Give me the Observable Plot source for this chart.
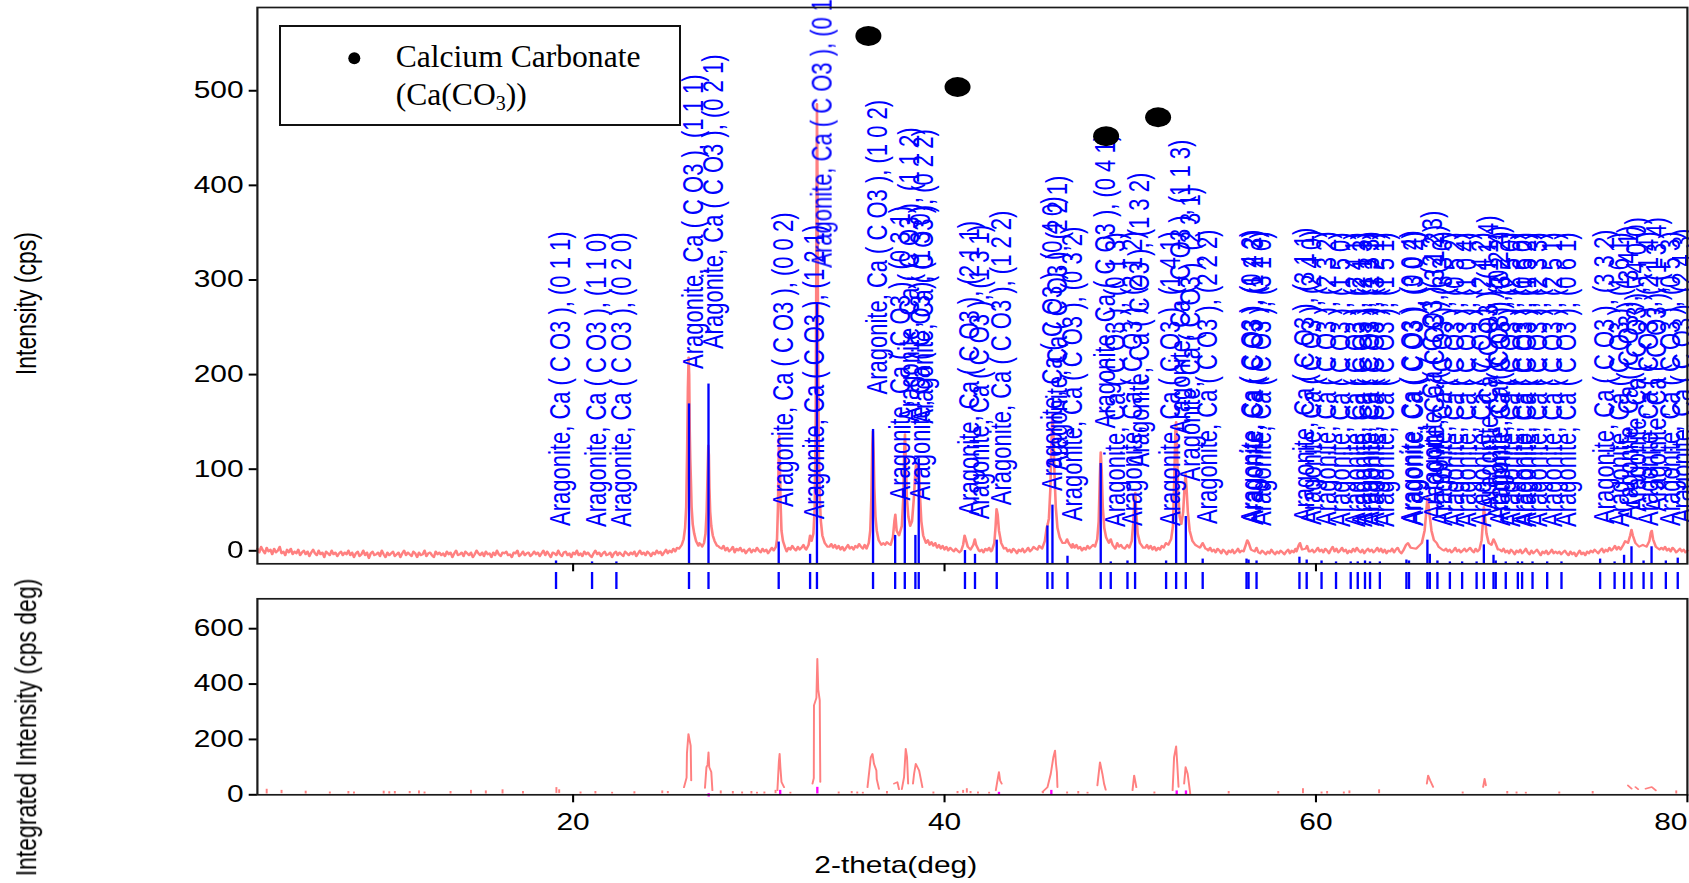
<!DOCTYPE html>
<html>
<head>
<meta charset="utf-8">
<script src="https://cdn.jsdelivr.net/npm/d3@7"></script>
<script src="https://cdn.jsdelivr.net/npm/@observablehq/plot@0.6"></script>
<style>
  html, body { margin: 0; padding: 0; background: #fff; }
  #page { position: relative; width: 1689px; height: 883px; overflow: hidden; background: #fff; }
  /* the diffractogram is laid out narrow and stretched horizontally */
  #chart { position: absolute; left: 0; top: 0; width: 1300px; transform: scaleX(1.3); transform-origin: 0 0; }
  #chart svg { display: block; max-width: none; }
  #legend { position: absolute; left: 0; top: 0; }
</style>
</head>
<body>
<div id="page">
  <div id="chart"></div>
  <svg id="legend" width="700" height="140" font-family="'Liberation Serif', 'Times New Roman', serif">
    <rect x="280" y="26" width="400" height="99" fill="white" stroke="#111" stroke-width="2"></rect>
    <circle cx="354.3" cy="58.3" r="6" fill="black"></circle>
    <text x="395.7" y="66.7" font-size="31.6">Calcium Carbonate</text>
    <text x="395.7" y="105" font-size="31.6">(Ca(CO<tspan font-size="20" dy="5">3</tspan><tspan dy="-5">))</tspan></text>
  </svg>
</div>
<script>
// ---- measured scan: counts on a 0.1° grid from 3.0° to 80.0° ----
const scanStart = 3.0, scanStep = 0.1;
const background = [
  // 3.0 – 7.9
  16,12,18,14,11,17,13,15,10,16,12,14,18,11,13,9,15,12,16,10,13,11,15,9,12,14,10,13,8,12,15,11,9,14,10,12,7,13,11,9,14,10,12,8,11,13,9,12,10,14,
  // 8.0 – 12.9
  9,12,7,11,13,8,10,14,9,12,6,11,13,9,10,12,8,14,10,7,12,9,11,13,8,10,12,7,11,14,9,12,10,8,13,11,7,12,9,10,14,8,11,12,9,7,13,10,12,9,
  // 13.0 – 17.9
  11,8,13,10,12,7,11,14,9,10,12,8,13,11,9,12,7,10,14,11,9,12,8,13,10,11,7,12,9,14,10,8,12,11,13,9,10,7,12,11,14,8,10,13,9,11,12,8,10,13,
  // 18.0 – 22.9
  10,12,8,11,14,9,13,10,7,12,11,9,14,10,8,12,13,9,11,7,12,10,14,9,11,8,13,10,12,9,7,11,14,10,12,8,11,13,9,10,12,7,11,13,9,12,10,8,13,11,
  // 23.0 – 27.9
  9,12,10,13,8,11,14,10,12,9,13,11,8,12,10,14,11,13,9,12,15,11,14,12,16,13,17,15,19,21,30,60,200,120,60,35,28,24,22,20,20,22,60,110,50,30,24,21,19,17,
  // 28.0 – 32.9
  16,19,14,17,13,15,18,12,16,14,17,13,15,11,14,16,12,15,13,17,14,12,16,13,15,11,14,17,13,16,12,15,18,14,16,13,17,15,19,16,14,18,15,17,20,16,19,22,18,21,
  // 33.0 – 37.9
  300,480,120,45,30,24,20,22,18,21,17,20,16,19,15,18,14,17,20,16,18,15,19,17,21,18,16,20,17,19,40,130,60,30,24,21,25,22,20,23,21,24,26,45,28,25,27,50,120,60,
  // 38.0 – 42.9
  45,42,55,100,100,70,40,30,26,24,22,25,20,23,19,22,17,20,16,19,15,18,14,17,15,13,16,14,12,15,20,28,18,15,16,22,18,14,16,13,15,12,16,14,17,13,15,18,14,17,
  // 43.0 – 47.9
  16,19,14,17,13,15,12,16,14,11,15,13,16,12,14,17,13,15,18,16,15,19,17,22,26,40,45,80,150,90,40,30,26,24,22,20,25,22,19,21,17,20,16,18,14,17,15,19,16,18,
  // 48.0 – 52.9
  20,22,30,60,110,60,35,28,24,22,25,21,19,22,18,20,17,21,19,16,20,24,75,50,28,22,19,21,17,20,16,19,15,18,14,17,15,19,16,18,20,24,30,60,140,90,45,42,60,90,
  // 53.0 – 57.9
  80,50,30,24,21,20,19,17,20,22,18,16,14,17,13,15,12,16,14,11,15,13,10,14,12,15,11,13,16,12,14,16,20,24,18,14,12,15,17,13,11,14,12,10,13,11,15,12,10,13,
  // 58.0 – 62.9
  11,14,12,10,13,15,11,14,12,16,13,19,22,15,16,19,17,13,15,12,14,17,13,15,12,16,14,11,15,18,13,16,12,14,17,13,15,11,14,12,16,13,17,14,12,15,11,14,16,13,
  // 63.0 – 67.9
  15,12,14,17,13,16,12,15,11,14,13,16,12,15,17,13,11,14,12,15,18,16,14,17,15,13,16,20,35,55,70,50,30,24,22,19,17,15,18,14,16,13,15,12,14,17,13,15,12,14,
  // 68.0 – 72.9
  16,13,15,17,14,12,16,13,18,30,55,35,22,19,21,20,24,22,17,15,13,16,12,14,11,15,13,10,14,12,15,11,13,16,12,10,14,11,13,15,12,9,13,11,14,10,12,15,11,13,
  // 73.0 – 77.9
  11,13,10,12,14,11,9,13,10,12,8,11,14,10,12,9,13,11,14,12,15,13,11,14,16,12,15,13,17,14,16,19,15,18,16,20,22,24,21,19,18,25,32,28,22,19,17,20,18,16,
  // 78.0 – 80.0
  19,24,32,35,26,20,17,15,18,14,16,13,17,15,12,14,16,13,15,12,14
];

// ---- measured scan around the reflections, finer steps: [2θ, cps] ----
const peakScans = [
  [[25.7,16],[25.85,20],[25.95,26],[26.03,38],[26.09,60],[26.14,120],[26.18,185],[26.22,218],[26.25,200],[26.28,140],[26.31,110],[26.34,90],[26.38,60],[26.44,42],[26.52,32],[26.62,24],[26.75,19]],
  [[26.95,18],[27.05,22],[27.13,32],[27.19,55],[27.24,95],[27.28,125],[27.31,115],[27.34,80],[27.38,55],[27.44,40],[27.52,30],[27.62,24],[27.75,19]],
  [[30.8,14],[30.92,18],[30.98,26],[31.03,60],[31.07,115],[31.10,135],[31.13,110],[31.17,65],[31.22,35],[31.3,24],[31.42,17]],
  [[32.55,15],[32.68,20],[32.76,30],[32.84,24],[32.94,32],[33.01,60],[33.06,150],[33.10,330],[33.13,486],[33.16,400],[33.19,230],[33.23,120],[33.28,70],[33.34,45],[33.42,30],[33.55,22],[33.7,18]],
  [[35.8,16],[35.92,22],[36.0,35],[36.06,70],[36.11,125],[36.14,140],[36.18,118],[36.22,80],[36.28,50],[36.35,35],[36.45,25],[36.6,20]],
  [[37.1,20],[37.22,28],[37.3,45],[37.35,52],[37.42,35],[37.55,30],[37.7,40],[37.78,70],[37.83,120],[37.87,137],[37.91,110],[37.97,70],[38.05,50],[38.15,40],[38.25,45],[38.35,70],[38.42,95],[38.47,106],[38.52,90],[38.58,100],[38.62,104],[38.67,75],[38.75,45],[38.85,30],[39.0,22]],
  [[40.9,14],[41.0,20],[41.08,30],[41.14,26],[41.25,18],[41.4,15],[41.55,20],[41.63,26],[41.7,20],[41.85,14]],
  [[42.55,14],[42.68,22],[42.75,40],[42.8,58],[42.86,52],[42.93,35],[43.05,22],[43.2,16]],
  [[45.25,16],[45.4,24],[45.5,38],[45.56,42],[45.62,48],[45.7,80],[45.76,130],[45.81,158],[45.86,140],[45.92,95],[45.99,60],[46.08,38],[46.2,28],[46.35,22],[46.5,22],[46.6,26],[46.68,22],[46.85,17]],
  [[48.1,18],[48.22,26],[48.3,45],[48.36,90],[48.41,118],[48.46,100],[48.52,60],[48.6,38],[48.7,28],[48.85,22],[48.95,26],[49.05,20],[49.2,16]],
  [[49.7,16],[49.84,20],[49.95,17],[50.08,24],[50.17,45],[50.23,70],[50.27,75],[50.32,55],[50.4,32],[50.52,22],[50.7,17]],
  [[51.8,17],[51.92,22],[52.05,20],[52.2,26],[52.3,40],[52.37,90],[52.43,140],[52.47,150],[52.52,120],[52.58,75],[52.66,50],[52.75,42],[52.85,55],[52.92,80],[52.98,95],[53.03,80],[53.1,55],[53.2,35],[53.35,24],[53.5,20],[53.75,17],[53.9,22],[54.05,16]],
  [[56.1,13],[56.22,20],[56.3,25],[56.38,22],[56.5,15],[56.7,13],[56.8,17],[56.9,12]],
  [[58.95,13],[59.08,20],[59.14,22],[59.25,15],[59.45,16],[59.52,19],[59.62,13]],
  [[64.7,14],[64.85,20],[64.95,22],[65.1,17],[65.4,16],[65.7,22],[65.85,35],[65.94,55],[66.0,70],[66.06,62],[66.13,50],[66.22,35],[66.35,25],[66.5,22],[66.6,18],[66.8,15]],
  [[68.8,15],[68.92,25],[68.98,42],[69.04,60],[69.1,50],[69.18,32],[69.3,22],[69.45,20],[69.56,26],[69.66,22],[69.8,15]],
  [[76.4,15],[76.55,20],[76.65,24],[76.8,22],[76.92,30],[76.99,36],[77.06,30],[77.2,22],[77.4,18],[77.6,20],[77.8,18],[77.95,24],[78.03,33],[78.08,35],[78.15,26],[78.3,18],[78.5,15]]
];

// ---- Aragonite reference card: position (2θ), stick height (cps), hkl ----
const refPos = [19.08,21.02,22.33,26.24,27.29,31.07,32.76,33.13,36.15,37.34,37.86,38.43,38.61,41.10,41.64,42.81,
  45.54,45.81,46.62,48.41,48.95,49.85,50.26,51.93,52.47,52.99,53.90,56.26,56.37,56.80,59.11,59.50,
  60.30,61.08,61.87,62.25,62.64,62.91,63.44,64.87,65.01,66.00,66.13,66.54,67.21,67.87,68.65,69.04,69.56,69.68,
  70.22,70.87,71.10,71.66,72.45,73.22,75.30,76.08,76.59,76.99,77.64,78.07,78.84,79.48];
const refCps = [3,2,2,169,190,23,10,276,142,30,113,30,111,14,10,25,
  40,62,8,106,2,3,65,3,100,50,5,5,4,3,7,4,
  3,2,2,2,3,2,2,4,3,25,10,3,2,2,2,20,9,3,
  2,2,2,2,2,2,5,2,9,18,3,18,3,6];
const refHkl = ["0 1 1","1 1 0","0 2 0","1 1 1","0 2 1","0 0 2","1 2 1","0 1 2","1 0 2","0 3 1","1 1 2","1 3 0","0 2 2","2 1 1","1 3 1","1 2 2",
  "0 4 0","2 2 1","0 3 2","0 4 1","0 1 3","2 1 2","1 3 2","1 4 1","1 1 3","2 3 1","2 2 2","0 4 2","1 2 3","3 1 0","3 1 1","2 4 0",
  "2 3 2","1 5 0","2 4 1","2 1 3","1 3 3","3 2 1","1 5 1","0 0 4","3 0 2","2 2 3","3 1 2","3 3 0","0 5 2","1 0 4","2 4 2","1 1 4","0 2 4","3 2 2",
  "2 5 0","0 6 0","1 5 2","2 3 3","2 5 1","0 6 1","3 3 2","1 6 1","3 4 1","4 0 0","2 1 4","1 3 4","0 5 3","2 4 3"];

// ---- Calcium carbonate markers (2θ, cps) ----
const caco3Pos = [35.9, 40.7, 48.7, 51.5];
const caco3Cps = [558, 504, 452, 472];

// ---- integrated intensity: peak traces [2θ, cps·deg] and small baseline dashes [2θ, low, high] ----
const integratedTraces = [
  [[25.97,27],[26.11,62],[26.13,150],[26.21,220],[26.33,178],[26.36,52]],
  [[27.10,25],[27.18,100],[27.24,108],[27.29,154],[27.33,100],[27.44,82],[27.5,16]],
  [[31.0,16],[31.08,120],[31.12,148],[31.16,100],[31.22,46],[31.36,27]],
  [[32.89,40],[32.96,60],[32.97,323],[33.10,350],[33.15,491],[33.2,380],[33.28,341],[33.31,46]],
  [[35.85,27],[36.03,136],[36.12,148],[36.2,112],[36.33,88],[36.35,57],[36.47,21]],
  [[37.28,40],[37.46,46],[37.55,20]],
  [[37.7,20],[37.82,64],[37.91,166],[37.98,136],[38.04,40]],
  [[38.3,40],[38.36,76],[38.45,112],[38.63,88],[38.81,27]],
  [[42.76,16],[42.88,64],[42.93,82],[42.99,52],[43.08,40]],
  [[45.27,10],[45.54,27],[45.72,76],[45.86,136],[45.95,160],[46.0,112],[46.05,82],[46.08,27]],
  [[48.23,34],[48.37,118],[48.5,76],[48.59,40],[48.68,18]],
  [[50.12,16],[50.21,70],[50.26,52],[50.33,27]],
  [[52.28,16],[52.36,136],[52.47,175],[52.53,112],[52.6,28]],
  [[52.9,40],[52.98,100],[53.09,76],[53.23,4]],
  [[65.97,40],[66.04,70],[66.15,52],[66.31,28]],
  [[69.0,28],[69.08,58],[69.15,34]],
  [[76.8,34],[77.0,22]],
  [[77.2,28],[77.35,20]],
  [[77.75,22],[78.08,28],[78.3,16]]
];
const integratedDashes = [
  [3.5,3,20],[4.3,4,16],[5.6,3,13],[6.9,3,10],[7.9,3,12],[8.2,3,10],[9.8,3,13],[10.1,3,11],[10.4,3,12],
  [11.2,4,12],[11.7,3,14],[12.0,3,10],[13.4,3,12],[14.5,3,16],[15.3,3,14],[16.2,3,18],[17.3,3,12],
  [19.1,5,26],[19.25,5,18],[20.4,3,10],[21.2,3,12],[22.1,3,9],[23.3,3,11],[24.8,4,14],[25.1,4,12],
  [27.95,3,14],[28.6,3,12],[29.1,3,10],[29.6,3,12],[29.9,3,9],[30.3,3,10],[30.9,4,16],[31.7,3,9],
  [34.3,3,10],[35.0,4,12],[35.3,3,10],[35.6,3,9],[36.9,3,12],[39.4,3,10],[40.7,4,12],[41.0,5,16],
  [41.2,6,22],[41.4,4,12],[41.8,3,10],[42.4,3,9],[45.3,4,12],[46.6,3,10],[47.2,3,12],[47.7,3,9],
  [51.3,3,10],[55.3,3,12],[57.97,3,12],[59.3,4,22],[60.3,3,10],[60.6,3,12],[61.5,3,10],[61.8,4,14],
  [63.4,4,18],[67.9,3,10],[70.3,3,12],[70.8,3,10],[71.3,3,9],[73.1,3,10],[74.9,3,12],[79.4,3,14]
];
// fitted-peak markers on the integrated baseline [2θ, low, high]
const fitMarkers = [[27.3,-8,4],[31.15,-2,16],[33.15,3,27],[42.93,1,9],[45.75,1,16],[52.5,-2,14],[53.0,-2,14]];

// ---- axes ----
const xDomain = [3, 80];
const xTicks = [20, 40, 60, 80];
const yTicksScan = [0, 100, 200, 300, 400, 500];
const yTicksIntegrated = [0, 200, 400, 600];

// ---- tables for the marks ----
const windows = peakScans.map(p => [p[0][0], p[p.length - 1][0]]);
const scan = [];
background.forEach((c, i) => {
  const t = +(scanStart + i * scanStep).toFixed(2);
  if (!windows.some(([a, b]) => t >= a && t <= b)) scan.push({t, c});
});
peakScans.forEach(p => p.forEach(([t, c]) => scan.push({t, c})));
scan.sort((a, b) => a.t - b.t);

const sticks = refPos.map((t, i) => ({t, cps: refCps[i], label: `Aragonite, Ca ( C O3 ), (${refHkl[i]})`}));
const caco3 = caco3Pos.map((t, i) => ({t, c: caco3Cps[i]}));
const traceRows = integratedTraces.flatMap((tr, id) => tr.map(([t, v]) => ({id, t, v})));
const dashRows = integratedDashes.map(([t, lo, hi]) => ({t, lo, hi}));
const markerRows = fitMarkers.map(([t, lo, hi]) => ({t, lo, hi}));

const FONT = "'Liberation Sans', Arial, Helvetica, sans-serif";
const W = 1300, ML = 197.5, MR = 2.5;
const RED = "#ff8080", BLUE = "#0000ff";
const baseStyle = {fontFamily: FONT, fontSize: "23px", background: "white", color: "black", overflow: "visible"};

const scanPlot = Plot.plot({
  width: W, height: 572, marginLeft: ML, marginRight: MR, marginTop: 7, marginBottom: 8.7,
  style: baseStyle,
  x: {domain: xDomain},
  y: {domain: [0, 588]},
  marks: [
    Plot.line(scan, {x: "t", y: "c", stroke: RED, strokeWidth: 2}),
    Plot.ruleX(sticks, {x: "t", y1: 0, y2: "cps", stroke: BLUE, strokeWidth: 1.8}),
    Plot.text(sticks, {x: "t", y: "cps", text: "label", rotate: -90, textAnchor: "start", fill: BLUE, fontSize: 22, dx: 4, dy: -35}),
    Plot.dot(caco3, {x: "t", y: "c", r: 10, fill: "black"}),
    Plot.frame({stroke: "#1a1a1a", strokeWidth: 1.7}),
    Plot.axisY({ticks: yTicksScan.slice(1), tickSize: 6.2, tickPadding: 4.4, strokeWidth: 2, label: null}),
    Plot.axisY({ticks: yTicksScan.slice(0, 1), tickSize: 6.2, tickPadding: 4.4, dy: -13, strokeWidth: 2, label: null}),
    Plot.axisX({ticks: xTicks.slice(0, 3), tickSize: 8, strokeWidth: 1.6, tickFormat: () => "", label: null}),
    Plot.text(["Intensity (cps)"], {frameAnchor: "left", textAnchor: "middle", lineAnchor: "middle", rotate: -90, dx: -177.5, dy: 18, fontSize: 23})
  ]
});

const rugPlot = Plot.plot({
  width: W, height: 17, marginLeft: ML, marginRight: MR, marginTop: 0, marginBottom: 0,
  style: baseStyle,
  x: {domain: xDomain, axis: null},
  marks: [
    Plot.tickX(refPos, {x: d => d, stroke: BLUE, strokeWidth: 1.8})
  ]
});

const integratedPlot = Plot.plot({
  width: W, height: 294, marginLeft: ML, marginRight: MR, marginTop: 9.3, marginBottom: 88.7,
  style: baseStyle,
  x: {domain: xDomain},
  y: {domain: [0, 708]},
  marks: [
    Plot.line(traceRows, {x: "t", y: "v", z: "id", stroke: RED, strokeWidth: 1.5}),
    Plot.ruleX(dashRows, {x: "t", y1: "lo", y2: "hi", stroke: RED, strokeWidth: 1.5}),
    Plot.ruleX(markerRows, {x: "t", y1: "lo", y2: "hi", stroke: "#ff00ff", strokeWidth: 1.8}),
    Plot.frame({stroke: "#1a1a1a", strokeWidth: 1.7}),
    Plot.axisY({ticks: yTicksIntegrated, tickSize: 6.2, tickPadding: 4.4, strokeWidth: 2, label: null}),
    Plot.axisX({ticks: xTicks.slice(0, 3), tickSize: 8, tickPadding: 10.4, strokeWidth: 1.6, label: null}),
    Plot.axisX({ticks: xTicks.slice(3), tickSize: 8, tickPadding: 10.4, strokeWidth: 1.6, textAnchor: "end", label: null}),
    Plot.text(["Integrated Intensity (cps deg)"], {frameAnchor: "left", textAnchor: "middle", lineAnchor: "middle", rotate: -90, dx: -177.5, dy: 30.7, fontSize: 23}),
    Plot.text(["2-theta(deg)"], {frameAnchor: "bottom", textAnchor: "middle", lineAnchor: "middle", dx: -59, dy: 70.7, fontSize: 23})
  ]
});

const chart = document.getElementById("chart");
chart.append(scanPlot, rugPlot, integratedPlot);
</script>
</body>
</html>
